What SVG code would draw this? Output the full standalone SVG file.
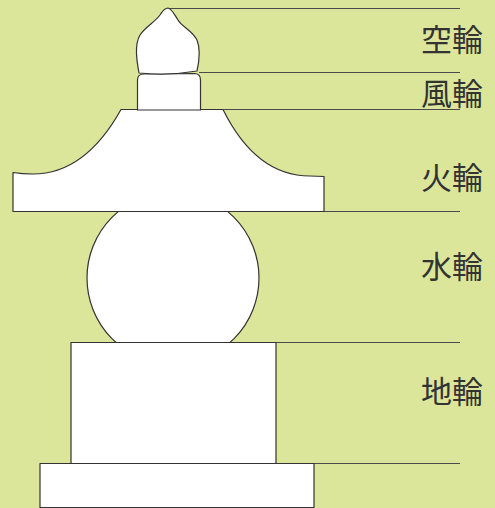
<svg xmlns="http://www.w3.org/2000/svg" width="495" height="508" viewBox="0 0 495 508">
  <style>
    .part { fill: #ffffff; stroke: #333333; stroke-width: 1.2; stroke-linejoin: round; }
    .lead { stroke: #4a4a4a; stroke-width: 1; fill: none; }
    .label { font-family: "Noto Sans CJK JP", "Noto Sans CJK SC", sans-serif; font-size: 31px; fill: #333333; }
  </style>
  <rect x="0" y="0" width="495" height="508" fill="#dce69a"/>

  <!-- level lines marking each ring -->
  <g id="connectors">
    <line class="lead" x1="168" y1="8.5" x2="460" y2="8.5"/>
    <line class="lead" x1="199" y1="72.5" x2="460" y2="72.5"/>
    <line class="lead" x1="223" y1="109.5" x2="460" y2="109.5"/>
    <line class="lead" x1="324" y1="211.5" x2="460" y2="211.5"/>
    <line class="lead" x1="276" y1="342.5" x2="460" y2="342.5"/>
    <line class="lead" x1="314" y1="463.5" x2="460" y2="463.5"/>
  </g>

  <!-- water ring: sphere, partly hidden by roof and earth block -->
  <g id="suirin">
    <circle class="part" cx="173" cy="278" r="86"/>
  </g>

  <!-- base slab -->
  <g id="kidan">
    <rect class="part" x="40" y="463.5" width="274" height="44"/>
  </g>

  <!-- earth ring: square block -->
  <g id="chirin">
    <rect class="part" x="71" y="342.5" width="205" height="121"/>
  </g>

  <!-- fire ring: curved roof -->
  <g id="karin">
    <path class="part" d="M121,109.5 L223,109.5 Q256,176 310,176 L324,176.5 L324,211.5 L13,211.5 L13,172.5 Q22,174 33,174 Q85,174 121,109.5 Z"/>
  </g>

  <!-- wind ring: small block -->
  <g id="fuurin">
    <path class="part" d="M137.5,110 L137.5,80 Q137.5,74 144,74 L195,73.5 Q200.5,74 200.5,80 L200.5,110 Z"/>
  </g>

  <!-- sky ring: jewel-shaped finial -->
  <g id="kuurin">
    <path class="part" d="M139,73 C137,62 134,45 140,35 C145,27 155,22 160,15 C163,10 166,8 168,8 C172,9 174,14 178,20 C182,27 192,30 197,40 C201,50 199,62 197,71 Q168,76 139,73 Z"/>
  </g>

  <g id="labels">
    <text class="label" x="421" y="51">空輪</text>
    <text class="label" x="421" y="105">風輪</text>
    <text class="label" x="421" y="189">火輪</text>
    <text class="label" x="421" y="278">水輪</text>
    <text class="label" x="421" y="403">地輪</text>
  </g>
</svg>
